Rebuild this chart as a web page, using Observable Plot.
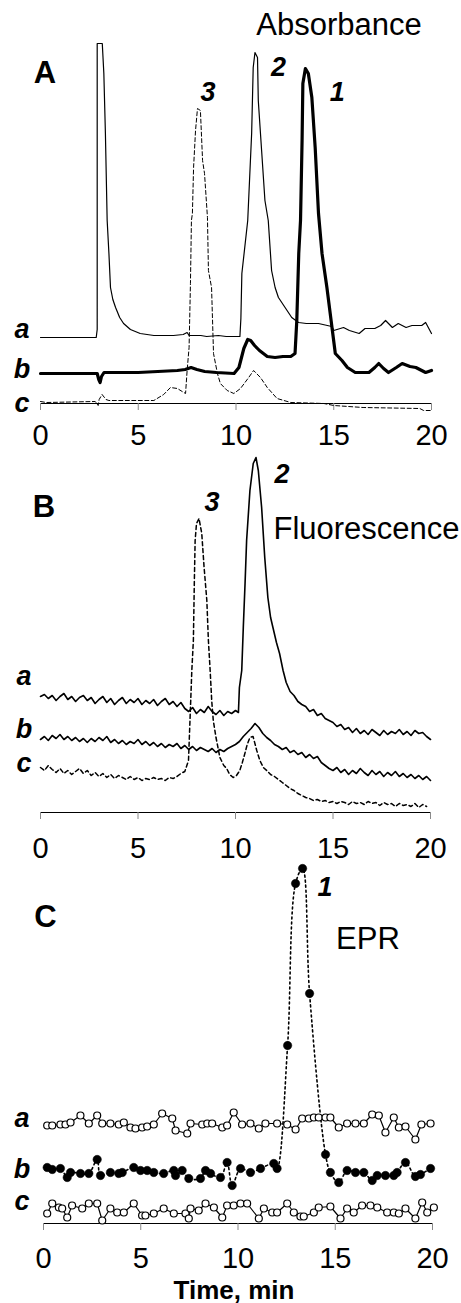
<!DOCTYPE html>
<html><head><meta charset="utf-8">
<script src="https://cdn.jsdelivr.net/npm/d3@7"></script>
<script src="https://cdn.jsdelivr.net/npm/@observablehq/plot@0.6"></script>
<style>
body{margin:0;background:#fff;}
#chart svg{display:block;}
</style></head><body><div id="chart"></div>
<script>
// ---------- shared ----------
const xTicks = [0, 5, 10, 15, 20];

// ---------- Panel A: Absorbance (time min, signal a.u.) ----------
const absA = [[0,66],[2.85,66],[2.9,74],[2.9,360],[3.16,360],[3.24,330],[3.32,270],[3.41,183],[3.5,150],[3.58,116],[3.7,104],[3.84,96],[4.05,86],[4.25,80],[4.6,74],[5.1,70],[5.8,68],[6.8,68],[7.3,69],[7.5,71],[7.6,68],[8.2,68],[8.5,67],[9.1,68],[9.5,67],[10.2,67],[10.25,85],[10.3,130],[10.6,183],[10.8,270],[10.88,336],[10.97,351],[11.1,346],[11.14,303],[11.31,253],[11.48,203],[11.65,183],[11.82,133],[12.0,116],[12.17,106],[12.51,96],[12.85,86],[13.2,81],[13.6,80],[14.22,80],[14.9,77],[15.0,73],[15.5,76],[15.8,73],[16.3,70],[16.6,75],[17.1,75],[17.4,78],[17.65,83],[18.0,76],[18.3,80],[18.7,76],[19.0,78],[19.5,78],[19.7,81],[20,70]];
const absB = [[0,30],[2.9,30],[2.98,24],[3.05,21],[3.12,27],[3.25,31],[5,31],[6,32],[7,33],[7.4,34],[7.7,36],[8.0,34],[8.4,32],[9.0,31],[9.9,30],[10.15,36],[10.4,55],[10.6,64],[10.75,63],[10.95,58],[11.2,53],[11.6,47],[12.0,46],[12.4,47],[12.8,47],[13.02,50],[13.11,83],[13.21,150],[13.3,183],[13.38,263],[13.42,320],[13.55,335],[13.7,330],[13.88,306],[14.05,256],[14.22,190],[14.4,150],[14.65,116],[14.91,76],[15.08,50],[15.42,43],[15.7,36],[16.1,31],[16.8,31],[17.1,36],[17.3,40],[17.55,35],[17.8,31],[18.2,36],[18.5,40],[18.9,37],[19.2,36],[19.5,33],[19.7,31],[20,33]];
const absC = [[0,2],[0.3,1],[2.8,2],[2.95,-2],[3.0,4],[3.15,9],[3.35,4],[3.5,3],[5.8,3],[6.3,9],[6.65,16],[7.0,15],[7.33,11],[7.42,10],[7.5,33],[7.6,56],[7.67,120],[7.72,183],[7.77,190],[7.83,236],[7.93,273],[8.03,295],[8.18,293],[8.29,243],[8.39,230],[8.54,186],[8.59,133],[8.75,116],[8.85,50],[9.05,30],[9.2,20],[9.55,13],[9.89,10],[10.23,15],[10.65,26],[10.9,33],[11.25,26],[11.6,16],[12.1,5],[12.8,1],[14.5,0],[15.0,-2],[16.5,-4],[19.4,-5],[19.6,-7],[20,-7]];

// ---------- Panel B: Fluorescence ----------
const fluA = [[0,116],[0.2,118],[0.4,114],[0.6,117],[0.8,112],[1,116],[1.2,119],[1.4,113],[1.6,116],[1.8,111],[2,115],[2.2,117],[2.4,112],[2.6,115],[2.8,109],[3,113],[3.2,116],[3.4,110],[3.6,114],[3.8,108],[4,112],[4.2,115],[4.4,109],[4.6,113],[4.8,110],[5,114],[5.2,108],[5.4,112],[5.6,109],[5.8,113],[6,107],[6.2,111],[6.4,114],[6.6,108],[6.8,111],[7,106],[7.2,110],[7.4,104],[7.6,101],[7.8,105],[8,99],[8.2,103],[8.4,100],[8.6,106],[8.8,101],[9,98],[9.2,102],[9.4,97],[9.6,101],[9.8,99],[10,102],[10.15,100],[10.2,125],[10.32,142],[10.4,185],[10.49,229],[10.57,272],[10.74,322],[10.91,349],[11.05,355],[11.17,342],[11.34,305],[11.5,255],[11.66,215],[11.8,195],[11.92,185],[12.1,170],[12.26,159],[12.44,142],[12.6,130],[12.8,121],[13,117],[13.2,111],[13.4,108],[13.6,106],[13.8,101],[14,103],[14.2,97],[14.4,99],[14.6,94],[14.8,92],[15,90],[15.2,86],[15.4,88],[15.6,83],[15.8,85],[16,80],[16.2,84],[16.4,79],[16.6,82],[16.8,78],[17,83],[17.2,80],[17.4,77],[17.6,82],[17.8,78],[18,81],[18.2,79],[18.4,83],[18.6,78],[18.8,81],[19,77],[19.2,82],[19.4,79],[19.6,80],[19.8,76],[20,73]];
const fluB = [[0,73],[0.2,76],[0.4,72],[0.6,77],[0.8,74],[1,78],[1.2,73],[1.4,76],[1.6,72],[1.8,75],[2,71],[2.2,74],[2.4,70],[2.6,74],[2.8,71],[3,75],[3.2,72],[3.4,76],[3.6,70],[3.8,73],[4,69],[4.2,72],[4.4,68],[4.6,71],[4.8,69],[5,73],[5.2,68],[5.4,71],[5.6,67],[5.8,70],[6,66],[6.2,69],[6.4,65],[6.6,68],[6.8,66],[7,69],[7.2,64],[7.4,67],[7.6,63],[7.8,66],[8,62],[8.2,65],[8.4,63],[8.6,61],[8.8,64],[9,60],[9.2,63],[9.4,61],[9.6,64],[9.8,66],[10,68],[10.2,71],[10.4,76],[10.6,80],[10.8,84],[11,89],[11.2,85],[11.4,79],[11.6,75],[11.8,72],[12,68],[12.2,66],[12.4,63],[12.6,65],[12.8,60],[13,62],[13.2,58],[13.4,60],[13.6,55],[13.8,58],[14,54],[14.2,56],[14.4,50],[14.6,47],[14.8,44],[15,42],[15.2,45],[15.4,40],[15.6,43],[15.8,38],[16,42],[16.2,39],[16.4,44],[16.6,40],[16.8,37],[17,42],[17.2,38],[17.4,41],[17.6,36],[17.8,40],[18,37],[18.2,41],[18.4,36],[18.6,39],[18.8,35],[19,38],[19.2,34],[19.4,37],[19.6,33],[19.8,36],[20,32]];
const fluC = [[0,45],[0.2,42],[0.4,47],[0.6,43],[0.8,40],[1,44],[1.2,39],[1.4,42],[1.6,38],[1.8,41],[2,44],[2.2,39],[2.4,42],[2.6,37],[2.8,40],[3,36],[3.2,39],[3.4,35],[3.6,38],[3.8,34],[4,37],[4.2,35],[4.4,33],[4.6,36],[4.8,33],[5,35],[5.2,32],[5.4,34],[5.6,33],[5.8,35],[6,33],[6.2,34],[6.4,32],[6.6,35],[6.8,34],[7,36],[7.2,39],[7.4,41],[7.59,52],[7.7,110],[7.76,142],[7.84,172],[7.89,232],[7.93,272],[8,289],[8.13,294],[8.27,279],[8.39,245],[8.53,212],[8.61,172],[8.7,142],[8.78,112],[8.86,92],[9,75],[9.2,55],[9.4,47],[9.55,44],[9.7,38],[9.88,35],[10.05,37],[10.22,42],[10.35,50],[10.48,59],[10.6,68],[10.74,75],[10.9,76],[11.09,62],[11.25,52],[11.43,45],[11.6,42],[11.8,38],[12,36],[12.2,33],[12.4,30],[12.6,27],[12.8,24],[13,22],[13.2,19],[13.4,17],[13.6,15],[13.8,14],[14,12],[14.2,13],[14.4,11],[14.6,12],[14.8,10],[15,11],[15.2,9],[15.4,11],[15.6,10],[15.8,8],[16,11],[16.2,9],[16.4,10],[16.6,8],[16.8,11],[17,9],[17.2,10],[17.4,7],[17.6,10],[17.8,8],[18,9],[18.2,6],[18.4,9],[18.6,7],[18.8,8],[19,6],[19.2,9],[19.4,5],[19.6,8],[19.8,6]];

// ---------- Panel C: EPR ----------
const eprA = [[0.19,98],[0.45,98],[0.87,99],[1.13,99],[1.39,101],[1.9,108],[2.33,100],[2.76,108],[3.02,100],[3.44,100],[3.87,99],[4.13,101],[4.47,96],[4.73,95],[5.07,96],[5.33,97],[5.67,99],[6.1,110],[6.62,105],[6.79,93],[7.39,90],[7.56,100],[8.16,99],[8.42,100],[8.67,100],[9.19,96],[9.44,98],[9.78,111],[10.21,99],[10.64,100],[11.07,95],[11.41,100],[12.01,100],[12.53,99],[12.96,94],[13.3,105],[13.64,105],[13.9,106],[14.15,106],[14.5,106],[14.75,106],[15.18,96],[15.61,100],[16.04,100],[16.47,100],[16.9,109],[17.24,108],[17.58,91],[18.01,106],[18.27,96],[18.61,97],[19.12,84],[19.43,99],[19.9,100]];
const eprB = [[0.19,56],[0.45,54],[0.87,55],[1.22,46],[1.39,51],[1.9,50],[2.33,50],[2.76,64],[2.93,48],[3.44,51],[3.87,50],[4.05,51],[4.64,56],[4.99,53],[5.33,53],[5.67,51],[6.18,50],[6.7,53],[6.79,48],[7.13,53],[7.47,45],[8.07,45],[8.33,53],[8.59,50],[9.1,46],[9.44,61],[9.7,38],[10.13,55],[10.64,51],[11.16,55],[11.84,60],[12.01,55],[12.55,178],[12.96,340],[13.32,355],[13.68,230],[14.5,69],[14.75,51],[15.18,41],[15.61,53],[16.04,51],[16.47,51],[16.9,43],[17.16,48],[17.58,48],[18.01,48],[18.18,51],[18.61,61],[19.12,47],[19.38,49],[19.9,55]];
const eprC = [[0.19,10],[0.45,20],[0.79,16],[0.96,15],[1.22,6],[1.47,18],[1.99,15],[2.33,20],[2.76,20],[3.02,3],[3.44,15],[3.79,11],[4.13,11],[4.64,20],[5.07,8],[5.24,8],[5.67,10],[6.18,15],[6.7,10],[7.3,10],[7.47,5],[7.56,15],[7.98,13],[8.33,20],[8.76,16],[9.19,6],[9.44,18],[9.78,18],[10.13,20],[10.47,20],[11.07,5],[11.33,15],[11.76,11],[12.01,11],[12.53,20],[12.87,11],[13.21,7],[13.38,7],[13.9,11],[14.15,16],[14.75,17],[15.27,5],[15.61,15],[15.95,11],[16.38,18],[16.81,18],[17.16,16],[17.67,11],[18.01,11],[18.27,10],[18.61,15],[19.12,5],[19.47,21],[19.73,11],[20.07,16]];

// ---------- annotations (data coordinates) ----------
const panelLetters = {A: [{x: 0.23, y: 330, t: "A"}], B: [{x: 0.18, y: 305, t: "B"}], C: [{x: 0.1, y: 306, t: "C"}]};
const traceLabels = {
  A: [{x: -0.95, y: 74, t: "a"}, {x: -0.95, y: 34, t: "b"}, {x: -0.95, y: 0, t: "c"}],
  B: [{x: -0.85, y: 136, t: "a"}, {x: -0.85, y: 83, t: "b"}, {x: -0.85, y: 49, t: "c"}],
  C: [{x: -1.1, y: 105, t: "a"}, {x: -1.1, y: 54, t: "b"}, {x: -1.1, y: 22, t: "c"}]
};
const peakLabels = {
  A: [{x: 8.57, y: 311, t: "3"}, {x: 12.17, y: 336, t: "2"}, {x: 15.18, y: 311, t: "1"}],
  B: [{x: 8.79, y: 310, t: "3"}, {x: 12.38, y: 338, t: "2"}],
  C: [{x: 14.47, y: 336, t: "1"}]
};
const methodLabels = {A: [{x: 15.27, y: 378, t: "Absorbance"}], B: [{x: 16.72, y: 283, t: "Fluorescence"}], C: [{x: 16.68, y: 284, t: "EPR"}]};
const xTitle = "Time, min";

// ---------- helpers ----------
const rows = pairs => pairs.map(([t, v]) => ({t, v}));
const FONT = "Liberation Sans, Arial, Helvetica, sans-serif";

function annotations(key) {
  return [
    Plot.text(panelLetters[key], {x: "x", y: "y", text: "t", fontSize: 31, fontWeight: "bold", fill: "black", lineAnchor: "middle"}),
    Plot.text(traceLabels[key], {x: "x", y: "y", text: "t", fontSize: 27, fontWeight: "bold", fontStyle: "italic", fill: "black", lineAnchor: "middle"}),
    Plot.text(peakLabels[key], {x: "x", y: "y", text: "t", fontSize: 27, fontWeight: "bold", fontStyle: "italic", fill: "black", lineAnchor: "middle"}),
    Plot.text(methodLabels[key], {x: "x", y: "y", text: "t", fontSize: 31, fill: "black", lineAnchor: "middle"})
  ];
}

function panel({height, marginTop, marginBottom, marginLeft, marginRight, yMax, tickPadding, marks}) {
  return Plot.plot({
    width: 461, height, marginTop, marginBottom, marginLeft, marginRight,
    style: {fontFamily: FONT, background: "white", overflow: "visible"},
    x: {domain: [0, 20], axis: null},
    y: {domain: [0, yMax], axis: null},
    marks: [
      Plot.ruleY([0], {stroke: "black", strokeWidth: 1}),
      Plot.axisX({ticks: xTicks, tickSize: 7, tickPadding, fontSize: 29, stroke: "#8a8a8a", fill: "black", label: null, tickFormat: d => String(d)}),
      ...marks
    ]
  });
}

const chart = document.getElementById("chart");

// Panel A
chart.append(panel({
  height: 455, marginTop: 43, marginBottom: 52, marginLeft: 40, marginRight: 30, yMax: 360, tickPadding: 14,
  marks: [
    Plot.line(rows(absC), {x: "t", y: "v", stroke: "black", strokeWidth: 1, strokeDasharray: "4,2.5"}),
    Plot.line(rows(absA), {x: "t", y: "v", stroke: "black", strokeWidth: 1.2}),
    Plot.line(rows(absB), {x: "t", y: "v", stroke: "black", strokeWidth: 3.2, strokeLinejoin: "round"}),
    ...annotations("A")
  ]
}));

// Panel B
chart.append(panel({
  height: 407, marginTop: 0, marginBottom: 50, marginLeft: 40, marginRight: 31, yMax: 357, tickPadding: 18,
  marks: [
    Plot.line(rows(fluC), {x: "t", y: "v", stroke: "black", strokeWidth: 1.5, strokeDasharray: "4,3"}),
    Plot.line(rows(fluB), {x: "t", y: "v", stroke: "black", strokeWidth: 1.6}),
    Plot.line(rows(fluA), {x: "t", y: "v", stroke: "black", strokeWidth: 1.6}),
    ...annotations("B")
  ]
}));

// Panel C
chart.append(panel({
  height: 441, marginTop: 0, marginBottom: 80, marginLeft: 43, marginRight: 29, yMax: 361, tickPadding: 17,
  marks: [
    Plot.line(rows(eprA), {x: "t", y: "v", stroke: "black", strokeWidth: 1.2}),
    Plot.line(rows(eprC), {x: "t", y: "v", stroke: "black", strokeWidth: 1.2}),
    Plot.line(rows(eprB), {x: "t", y: "v", stroke: "black", strokeWidth: 1.6, strokeDasharray: "2,3", curve: "catmull-rom"}),
    Plot.dot(rows(eprA), {x: "t", y: "v", r: 3.5, fill: "white", stroke: "black", strokeWidth: 1.2}),
    Plot.dot(rows(eprC), {x: "t", y: "v", r: 3.5, fill: "white", stroke: "black", strokeWidth: 1.2}),
    Plot.dot(rows(eprB), {x: "t", y: "v", r: 4.2, fill: "black", stroke: "black", strokeWidth: 0.5}),
    Plot.text([xTitle], {frameAnchor: "bottom", lineAnchor: "middle", dy: 67, dx: -4, fontSize: 26, fontWeight: "bold", fill: "black"}),
    ...annotations("C")
  ]
}));
</script></body></html>
